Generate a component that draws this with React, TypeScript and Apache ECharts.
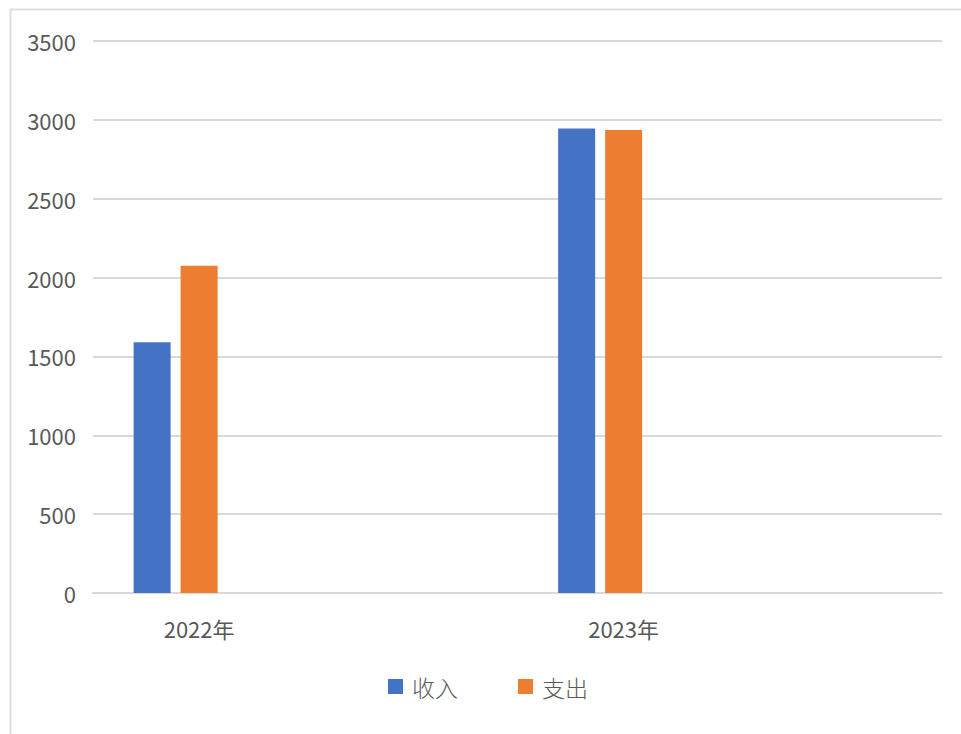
import React, { useEffect, useRef } from "react";
import * as echarts from "echarts";

const categories = ["2022年", "", "2023年", ""];
const incomeValues = [1590, null, 2945, null];
const expenseValues = [2075, null, 2935, null];
const emptyValues = [null, null, null, null];
const seriesNames = ["收入", "支出"];

export default function App() {
  const ref = useRef<HTMLDivElement>(null);
  useEffect(() => {
    if (!ref.current) return;
    const chart = echarts.init(ref.current, null, { renderer: "svg" });
    const font = "'Noto Sans CJK SC', 'Noto Sans', sans-serif";
    chart.setOption({
      animation: false,
      backgroundColor: "#ffffff",
      textStyle: { fontFamily: font },
      graphic: [
        {
          type: "rect",
          left: 8,
          top: 7,
          shape: { x: 0, y: 0, width: 1000, height: 1000 },
          style: { fill: "none", stroke: "#dedede", lineWidth: 2 },
          silent: true,
        },
      ],
      grid: { left: 93, right: 19, top: 41, bottom: 141, containLabel: false },
      legend: {
        data: seriesNames,
        left: 383,
        top: 670,
        padding: 5,
        itemWidth: 15,
        itemHeight: 15,
        itemGap: 60,
        icon: "rect",
        textStyle: {
          fontSize: 23,
          fontWeight: 300,
          color: "#595959",
          fontFamily: font,
          padding: [0, 0, 0, 4],
        },
      },
      xAxis: {
        type: "category",
        data: categories,
        axisLine: { show: true, lineStyle: { color: "#d9d9d9", width: 2 } },
        axisTick: { show: false },
        axisLabel: { fontSize: 22, color: "#595959", margin: 24, fontFamily: font, interval: 0 },
      },
      yAxis: {
        type: "value",
        min: 0,
        max: 3500,
        interval: 500,
        axisLine: { show: false },
        axisTick: { show: false },
        splitLine: { lineStyle: { color: "#d9d9d9", width: 2 } },
        axisLabel: {
          fontSize: 22,
          color: "#595959",
          margin: 17,
          fontFamily: font,
          formatter: (v: number) => String(v),
        },
      },
      series: [
        {
          name: seriesNames[0],
          type: "bar",
          data: incomeValues,
          barWidth: 37,
          barGap: "27%",
          itemStyle: { color: "#4472C4" },
        },
        {
          name: seriesNames[1],
          type: "bar",
          data: expenseValues,
          barWidth: 37,
          barGap: "27%",
          itemStyle: { color: "#ED7D31" },
        },
        {
          name: "",
          type: "bar",
          data: emptyValues,
          barWidth: 37,
          barGap: "27%",
          itemStyle: { color: "transparent" },
        },
      ],
    });
    return () => chart.dispose();
  }, []);
  return (
    <div
      ref={ref}
      style={{ position: "fixed", left: 0, top: 0, width: 961, height: 734 }}
    />
  );
}
